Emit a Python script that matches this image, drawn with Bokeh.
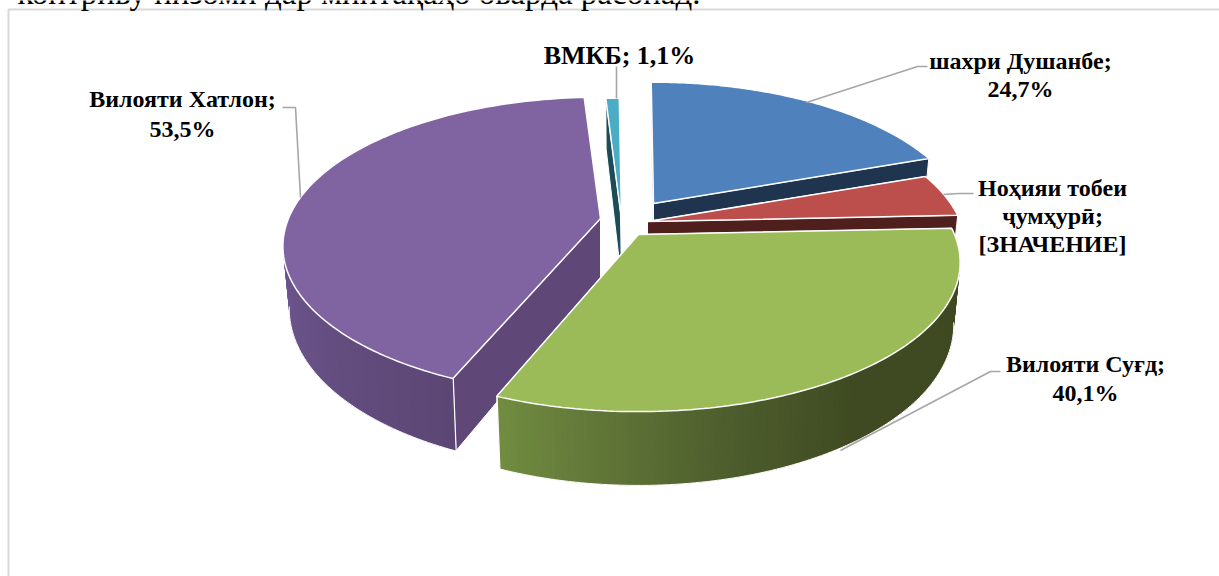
import math
from bokeh.plotting import figure
from bokeh.models import Range1d
from bokeh.core.properties import value
from bokeh.embed import file_html
from bokeh.resources import INLINE

# ---- data ----
categories = ["шахри Душанбе", "Ноҳияи тобеи ҷумҳурӣ", "Вилояти Суғд", "Вилояти Хатлон", "ВМКБ"]
visual_shares = [19.75, 4.7, 31.9, 42.8, 0.85]   # share of the circle as drawn (percent)
label_lines = [
    ["шахри Душанбе;", "24,7%"],
    ["Ноҳияи тобеи", "ҷумҳурӣ;", "[ЗНАЧЕНИЕ]"],
    ["Вилояти Суғд;", "40,1%"],
    ["Вилояти Хатлон;", "53,5%"],
    ["ВМКБ; 1,1%"],
]
header_text = "контриву низоми дар минтақаҳо оварда расонад."

# ---- styles / layout ----
TOP = ["#4F81BD", "#BC4F4B", "#9BBB59", "#8064A2", "#4BACC6"]
EDGE_WALL = ["#1F344F", "#4E1F1D", "#5C7235", "#5F4877", "#1C4C58"]
OUTER_WALL = {
    2: [(-112.5, (0x72, 0x8D, 0x41)), (-78.0, (0x4F, 0x5F, 0x2D)), (-55.0, (0x3F, 0x4A, 0x22)), (5.0, (0x3F, 0x4A, 0x22))],
    3: [(190.0, (0x6E, 0x57, 0x90)), (247.5, (0x5B, 0x46, 0x73))],
}
WALL_RANGE = {2: (-111.7, -10.0), 3: (-170.0, -113.0)}
APEX = [(653, 203), (647, 221), (638, 234), (600, 218), (621, 219)]
RADIUS = [310, 313, 316, 312, 300]
EDGE_NUDGE = {(2, 1): 0.6, (3, 0): -0.7}   # perspective correction of the shared edge
SKIP_WALL = {(3, 1)}                        # wall hidden behind the face
KR = 144.0      # vertical radius term
PERSP = 0.187   # perspective
DEPTH = 60.0
BOT_SCALE = 0.98
START_ANGLE = 90.5
PAINT_ORDER = [4, 0, 3, 1, 2]
LABEL_POS = [(1020, 60), (1052, 187), (1085, 363), (182, 98), (619, 55)]
LINE_H = [28, 28, 29, 30, 0]
LABEL_SIZE = ["24px", "24px", "24px", "24px", "26px"]
LEADERS = [
    [(806, 102), (917, 66), (927, 66)],
    [(943, 194), (958, 193), (973, 193)],
    [(840, 450), (990, 371), (1000, 371)],
    [(300, 197), (295, 107), (282, 107)],
    [(616, 66), (616, 98)],
]
GREY = "#A6A6A6"

p = figure(width=1219, height=576, output_backend="svg", toolbar_location=None,
           x_range=Range1d(0, 1219), y_range=Range1d(576, 0), min_border=0)
p.axis.visible = False
p.grid.visible = False
p.outline_line_color = None
p.background_fill_color = "white"
p.border_fill_color = "white"


def top_pt(i, deg):
    t = math.radians(deg)
    c, s = math.cos(t), math.sin(t)
    f = 1.0 + PERSP * s
    ax, ay = APEX[i]
    return ax + RADIUS[i] * c / f, ay - KR * s / f


def bot_pt(i, deg):
    t = math.radians(deg)
    c, s = math.cos(t), math.sin(t)
    f = 1.0 + PERSP * s
    ax, ay = APEX[i]
    return (ax + BOT_SCALE * RADIUS[i] * c / f,
            ay + DEPTH / f - KR * s / f)


def apex_bot(i):
    return APEX[i][0], APEX[i][1] + DEPTH


def frange(a, b, n):
    return [a + (b - a) * k / n for k in range(n + 1)]


def wall_colour(i, deg):
    stops = OUTER_WALL[i]
    d = deg % 360 if i == 3 else deg
    if d <= stops[0][0]:
        return "#%02x%02x%02x" % stops[0][1]
    for (a, ca), (b, cb) in zip(stops, stops[1:]):
        if d <= b:
            u = (d - a) / (b - a)
            return "#%02x%02x%02x" % tuple(round(x + (y - x) * u) for x, y in zip(ca, cb))
    return "#%02x%02x%02x" % stops[-1][1]


# angles clockwise from the start
spans = []
a = START_ANGLE
for idx, v in enumerate(visual_shares):
    b = a - v * 3.6
    spans.append((a + EDGE_NUDGE.get((idx, 0), 0.0), b + EDGE_NUDGE.get((idx, 1), 0.0)))
    a = b

# page frame
p.line([8, 8, 1219], [576, 9, 9], line_color="#D9D9D9", line_width=2)
p.text([700], [-8], text=[header_text], text_font=value("Liberation Serif"),
       text_font_size="33px", text_align="right", text_baseline="alphabetic",
       text_color="#000000")

for i in PAINT_ORDER:
    a0, a1 = spans[i]
    # radial walls
    for which, ang in enumerate((a0, a1)):
        if (i, which) in SKIP_WALL:
            continue
        x0, y0 = top_pt(i, ang)
        x1, y1 = bot_pt(i, ang)
        ax, ay = APEX[i]
        bx, by = apex_bot(i)
        p.patch([ax, x0, x1, bx], [ay, y0, y1, by], fill_color=EDGE_WALL[i],
                line_color="white", line_width=1)
    # outer wall with shading: each strip overlaps the next so that no seams show
    if i in WALL_RANGE:
        lo, hi = WALL_RANGE[i]
        n = int(hi - lo)
        angs = frange(lo, hi, n)
        if i == 3:
            angs = angs[::-1]
        xs, ys, cols = [], [], []
        for k in range(len(angs) - 1):
            d0, d1 = angs[k], angs[min(k + 3, len(angs) - 1)]
            xs.append([top_pt(i, d0)[0], top_pt(i, d1)[0], bot_pt(i, d1)[0], bot_pt(i, d0)[0]])
            ys.append([top_pt(i, d0)[1], top_pt(i, d1)[1], bot_pt(i, d1)[1], bot_pt(i, d0)[1]])
            cols.append(wall_colour(i, (angs[k] + angs[k + 1]) / 2))
        p.patches(xs, ys, fill_color=cols, line_color=None)
        p.line([bot_pt(i, d)[0] for d in angs], [bot_pt(i, d)[1] for d in angs],
               line_color="white", line_width=1)
        edge = hi if i == 3 else lo
        xt, yt = top_pt(i, edge)
        xb, yb = bot_pt(i, edge)
        p.line([xt, xb], [yt, yb], line_color="white", line_width=1.2)
    # top face
    angs = frange(a0, a1, 120)
    xs = [APEX[i][0]] + [top_pt(i, d)[0] for d in angs]
    ys = [APEX[i][1]] + [top_pt(i, d)[1] for d in angs]
    p.patch(xs, ys, fill_color=TOP[i], line_color="white", line_width=1.5)

# leader lines
for pts in LEADERS:
    p.line([q[0] for q in pts], [q[1] for q in pts], line_color=GREY, line_width=1.6)

# labels
for (cx, cy), lines, lh, fs in zip(LABEL_POS, label_lines, LINE_H, LABEL_SIZE):
    for k, line in enumerate(lines):
        p.text([cx], [cy + k * lh], text=[line], text_font=value("Liberation Serif"),
               text_font_style="bold", text_font_size=fs, text_align="center",
               text_baseline="middle", text_color="#000000")

open("out.html", "w").write(file_html(p, INLINE))
